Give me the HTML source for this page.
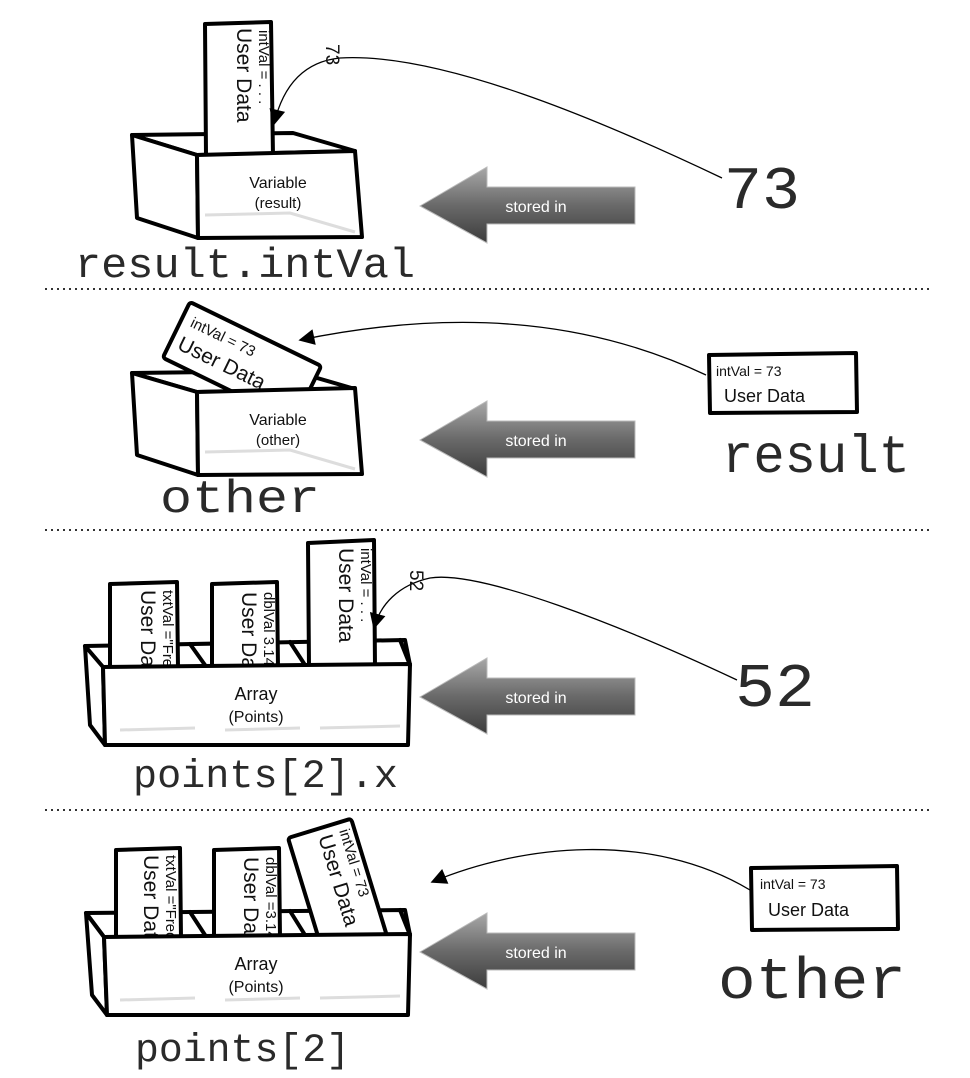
<!DOCTYPE html>
<html><head><meta charset="utf-8"><style>
html,body{margin:0;padding:0;background:#fff;}
svg{display:block;}
.mono{font-family:"Liberation Mono",monospace;fill:#2a2a2a;}
.hand{font-family:"Liberation Sans",sans-serif;fill:#111;}
.ln{fill:none;stroke:#000;stroke-width:4;stroke-linejoin:round;stroke-linecap:round;}
.face{fill:#fff;stroke:#000;stroke-width:4;stroke-linejoin:round;}
.card{fill:#fff;stroke:#000;stroke-width:4;stroke-linejoin:round;}
.ghost{fill:none;stroke:#ddd;stroke-width:3;}
.curve{fill:none;stroke:#000;stroke-width:1.3;}
.dot{stroke:#333;stroke-width:2;stroke-dasharray:2 4;}
</style></head><body>
<svg width="970" height="1078" viewBox="0 0 970 1078" xmlns="http://www.w3.org/2000/svg">
<defs>
<linearGradient id="ag" x1="0" y1="0" x2="0" y2="1">
<stop offset="0" stop-color="#a8a8a8"/><stop offset="0.5" stop-color="#6a6a6a"/><stop offset="1" stop-color="#3c3c3c"/>
</linearGradient>
<marker id="ah2" viewBox="0 0 10 10" refX="9" refY="5" markerWidth="22" markerHeight="16" orient="auto" markerUnits="userSpaceOnUse">
<path d="M0,0 L10,5 L0,10 z" fill="#000"/></marker>
</defs>

<line class="dot" x1="45" y1="289" x2="930" y2="289"/>
<line class="dot" x1="45" y1="530" x2="930" y2="530"/>
<line class="dot" x1="45" y1="810" x2="930" y2="810"/>

<!-- PANEL 1 -->
<g>
<path class="face" d="M132,135 L293,133 L355,151 L197,155 Z"/>
<g>
<path class="card" d="M205,24 L271,22 L273,156 L206,156 Z"/>
<g transform="translate(272,28) rotate(90)">
<text class="hand" x="2" y="13" font-size="15">intVal = . . .</text>
<text class="hand" x="0" y="35" font-size="21">User Data</text>
</g>
</g>
<path class="face" d="M132,135 L197,155 L198,238 L137,218 Z"/>
<path class="face" d="M197,155 L355,151 L362,237 L198,238 Z"/>
<path class="ghost" d="M205,215 L290,213 L355,232"/>
<text class="hand" x="278" y="188" font-size="16" text-anchor="middle">Variable</text>
<text class="hand" x="278" y="208" font-size="15" text-anchor="middle">(result)</text>
<text class="mono" x="75" y="277" font-size="42" textLength="340" lengthAdjust="spacingAndGlyphs">result.intVal</text>
<path class="curve" d="M722,178 C600,120 440,52 340,58 C300,62 282,90 274,124" marker-end="url(#ah2)"/>
<text class="hand" x="312" y="42" font-size="19" transform="rotate(90 318 50)">73</text>
<text class="mono" x="724" y="208" font-size="60" textLength="76" lengthAdjust="spacingAndGlyphs">73</text>
<g transform="translate(420,206)">
<polygon points="0,0 67,-39 67,-19 215,-19 215,18 67,18 67,37" fill="url(#ag)" stroke="#bbb" stroke-width="1"/>
<text x="116" y="6" font-size="16" fill="#fff" text-anchor="middle" font-family="Liberation Sans,sans-serif">stored in</text>
</g>
</g>

<!-- PANEL 2 -->
<g>
<path class="face" d="M132,373 L293,371 L355,389 L197,392 Z"/>
<g transform="translate(190,302) rotate(26)">
<rect class="card" x="0" y="0" width="146" height="62" rx="3"/>
<text class="hand" x="10" y="22" font-size="15">intVal =  73</text>
<text class="hand" x="8" y="48" font-size="21">User Data</text>
</g>
<path class="face" d="M132,373 L197,392 L198,475 L137,455 Z"/>
<path class="face" d="M197,392 L355,388 L362,474 L198,475 Z"/>
<path class="ghost" d="M205,452 L290,450 L355,469"/>
<text class="hand" x="278" y="425" font-size="16" text-anchor="middle">Variable</text>
<text class="hand" x="278" y="445" font-size="15" text-anchor="middle">(other)</text>
<text class="mono" x="160" y="512" font-size="46" textLength="160" lengthAdjust="spacingAndGlyphs">other</text>
<path class="curve" d="M706,375 C600,325 470,305 300,340" marker-end="url(#ah2)"/>
<g>
<path class="card" d="M709,355 L856,353 L857,412 L710,413 Z" stroke-width="3"/>
<text class="hand" x="716" y="376" font-size="14">intVal =  73</text>
<text class="hand" x="724" y="402" font-size="18">User Data</text>
</g>
<text class="mono" x="722" y="472" font-size="54" textLength="188" lengthAdjust="spacingAndGlyphs">result</text>
<g transform="translate(420,440)">
<polygon points="0,0 67,-39 67,-19 215,-19 215,18 67,18 67,37" fill="url(#ag)" stroke="#bbb" stroke-width="1"/>
<text x="116" y="6" font-size="16" fill="#fff" text-anchor="middle" font-family="Liberation Sans,sans-serif">stored in</text>
</g>
</g>

<!-- PANEL 3 -->
<g>
<path class="face" d="M85,646 L405,640 L410,665 L103,667 Z"/>
<g><path class="card" d="M110,584 L177,582 L178,668 L110,668 Z"/>
<g transform="translate(176,590) rotate(90)"><text class="hand" x="0" y="13" font-size="15">txtVal ="Fred"</text><text class="hand" x="0" y="35" font-size="21">User Data</text></g></g>
<g><path class="card" d="M212,584 L277,582 L278,668 L212,668 Z"/>
<g transform="translate(277,592) rotate(90)"><text class="hand" x="0" y="13" font-size="15">dblVal 3.14</text><text class="hand" x="0" y="35" font-size="21">User Data</text></g></g>
<g><path class="card" d="M308,543 L374,540 L375,668 L309,668 Z"/>
<g transform="translate(374,548) rotate(90)"><text class="hand" x="0" y="13" font-size="15">intVal = . . .</text><text class="hand" x="0" y="35" font-size="21">User Data</text></g></g>
<path class="face" d="M85,646 L103,667 L105,745 L90,725 Z"/>
<path class="ln" d="M190,644 L205,665 M290,642 L305,665 M400,640 L410,665"/>
<path class="face" d="M103,667 L410,664 L408,745 L105,745 Z"/>
<path class="ghost" d="M120,730 L195,728 M225,730 L300,728 M320,728 L400,726"/>
<text class="hand" x="256" y="700" font-size="18" text-anchor="middle">Array</text>
<text class="hand" x="256" y="722" font-size="16" text-anchor="middle">(Points)</text>
<text class="mono" x="133" y="787" font-size="40" textLength="265" lengthAdjust="spacingAndGlyphs">points[2].x</text>
<path class="curve" d="M737,680 C620,625 480,570 430,578 C398,585 380,605 374,628" marker-end="url(#ah2)"/>
<text class="hand" x="396" y="568" font-size="19" transform="rotate(90 402 576)">52</text>
<text class="mono" x="735" y="706" font-size="62" textLength="80" lengthAdjust="spacingAndGlyphs">52</text>
<g transform="translate(420,697)">
<polygon points="0,0 67,-39 67,-19 215,-19 215,18 67,18 67,37" fill="url(#ag)" stroke="#bbb" stroke-width="1"/>
<text x="116" y="6" font-size="16" fill="#fff" text-anchor="middle" font-family="Liberation Sans,sans-serif">stored in</text>
</g>
</g>

<!-- PANEL 4 -->
<g>
<path class="face" d="M86,913 L405,910 L410,935 L104,937 Z"/>
<g><path class="card" d="M116,850 L180,848 L181,938 L116,938 Z"/>
<g transform="translate(179,855) rotate(90)"><text class="hand" x="0" y="13" font-size="15">txtVal ="Fred"</text><text class="hand" x="0" y="35" font-size="21">User Data</text></g></g>
<g><path class="card" d="M214,850 L279,848 L280,938 L214,938 Z"/>
<g transform="translate(279,857) rotate(90)"><text class="hand" x="0" y="13" font-size="15">dblVal =3.14</text><text class="hand" x="0" y="35" font-size="21">User Data</text></g></g>
<g transform="translate(288,838) rotate(-17)"><rect class="card" x="0" y="0" width="66" height="125" rx="3"/>
<g transform="translate(64,8) rotate(90)"><text class="hand" x="0" y="13" font-size="15">intVal =  73</text><text class="hand" x="0" y="35" font-size="21">User Data</text></g></g>
<path class="face" d="M86,913 L104,937 L107,1015 L92,995 Z"/>
<path class="ln" d="M190,912 L205,935 M290,911 L305,935 M400,910 L410,935"/>
<path class="face" d="M104,937 L410,934 L408,1015 L107,1015 Z"/>
<path class="ghost" d="M120,1000 L195,998 M225,1000 L300,998 M320,998 L400,996"/>
<text class="hand" x="256" y="970" font-size="18" text-anchor="middle">Array</text>
<text class="hand" x="256" y="992" font-size="16" text-anchor="middle">(Points)</text>
<text class="mono" x="135" y="1061" font-size="40" textLength="215" lengthAdjust="spacingAndGlyphs">points[2]</text>
<path class="curve" d="M750,890 C650,830 520,845 432,882" marker-end="url(#ah2)"/>
<g>
<path class="card" d="M751,868 L897,866 L898,929 L752,930 Z" stroke-width="3"/>
<text class="hand" x="760" y="889" font-size="14">intVal =  73</text>
<text class="hand" x="768" y="916" font-size="18">User Data</text>
</g>
<text class="mono" x="718" y="998" font-size="58" textLength="188" lengthAdjust="spacingAndGlyphs">other</text>
<g transform="translate(420,952)">
<polygon points="0,0 67,-39 67,-19 215,-19 215,18 67,18 67,37" fill="url(#ag)" stroke="#bbb" stroke-width="1"/>
<text x="116" y="6" font-size="16" fill="#fff" text-anchor="middle" font-family="Liberation Sans,sans-serif">stored in</text>
</g>
</g>
</svg>
</body></html>
